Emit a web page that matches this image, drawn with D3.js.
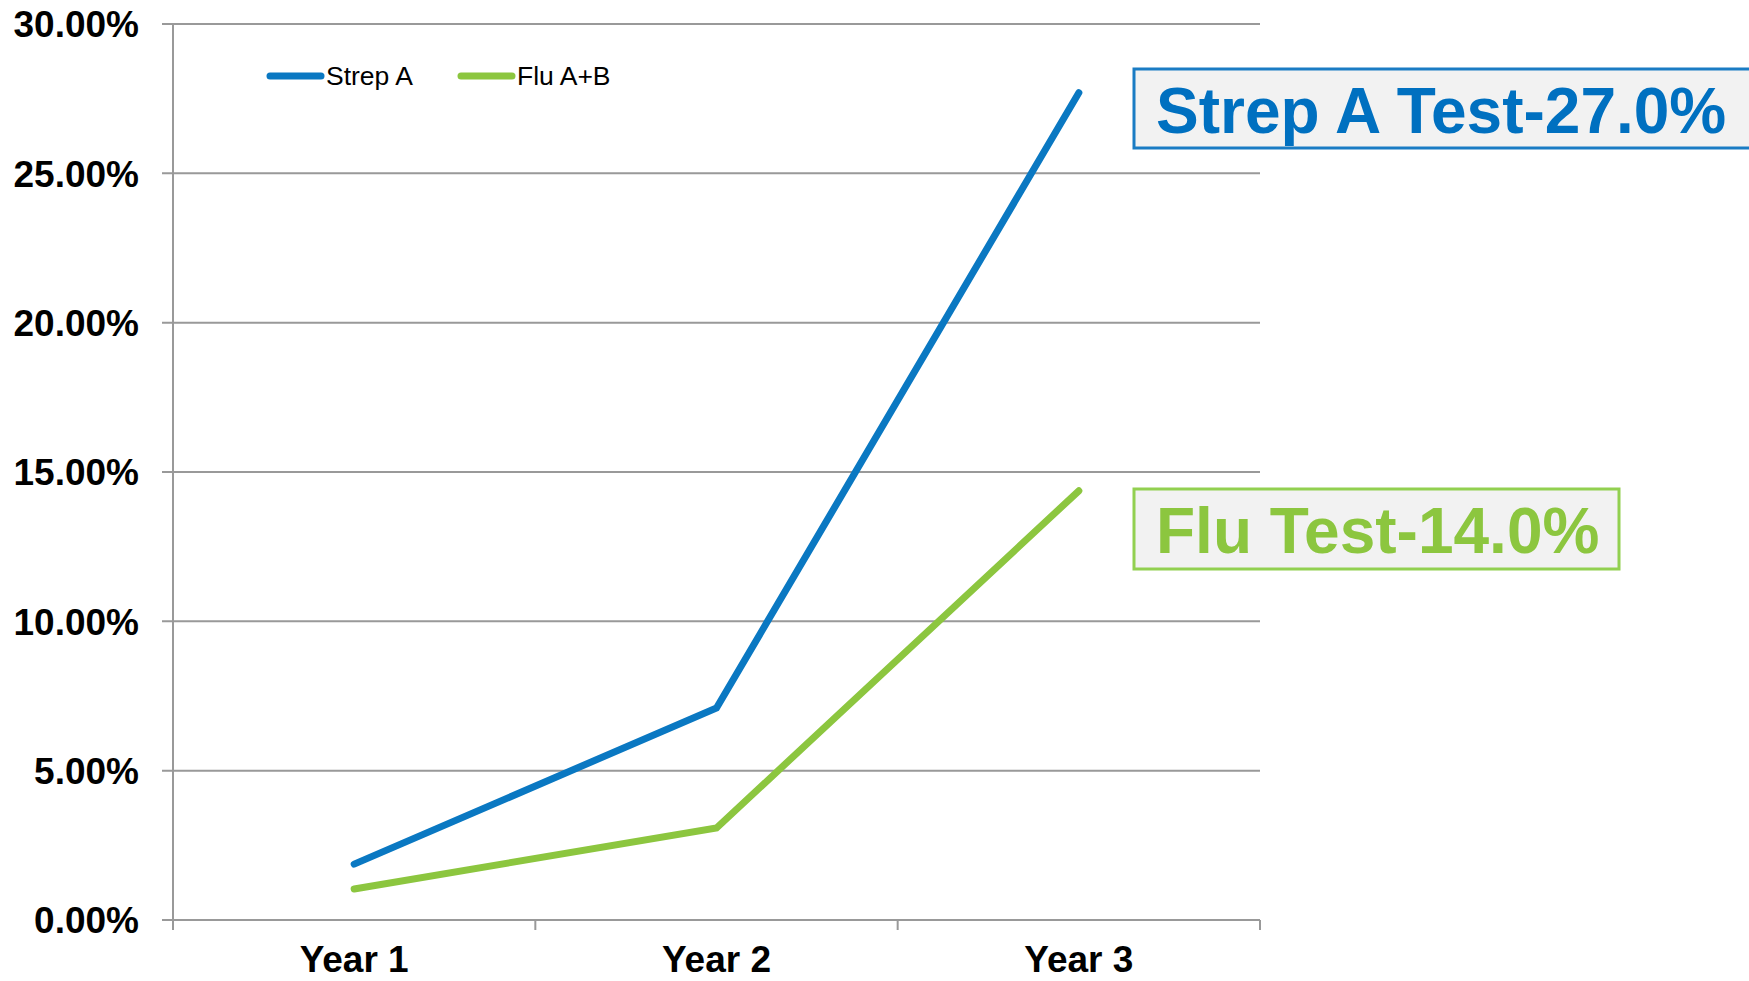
<!DOCTYPE html>
<html>
<head>
<meta charset="utf-8">
<script src="https://cdn.jsdelivr.net/npm/d3@7"></script>
<style>
  body { margin: 0; background: #fff; }
  svg { display: block; font-family: "Liberation Sans", Arial, sans-serif; }
</style>
</head>
<body>
<div id="chart"></div>
<script>
// data
var years = ["Year 1", "Year 2", "Year 3"];
var strepA = [0.0187, 0.0710, 0.2770];
var fluAB = [0.0104, 0.0308, 0.1437];
var yTicks = [0, 0.05, 0.10, 0.15, 0.20, 0.25, 0.30];
var seriesNames = ["Strep A", "Flu A+B"];
var calloutTexts = ["Strep A Test-27.0%", "Flu Test-14.0%"];

var blue = "#0a78c2",
  green = "#8cc63f",
  grid = "#999999";

var W = 1749, H = 981;
var margin = {top: 24, right: 489, bottom: 61, left: 173},
  width = W - margin.left - margin.right,
  height = H - margin.top - margin.bottom;

var svg = d3.select("#chart")
  .append("svg")
    .attr("width", W)
    .attr("height", H);

var chart = svg.append("g")
    .attr("transform", "translate(" + margin.left + "," + margin.top + ")");

var x = d3.scaleBand()
  .domain(years)
  .range([0, width]);

var y = d3.scaleLinear()
  .domain([0, 0.30])
  .range([height, 0]);

// gridlines + y ticks
chart.append("g")
    .attr("class", "grid")
  .selectAll("line")
  .data(yTicks)
  .enter().append("line")
    .attr("x1", -11)
    .attr("x2", width)
    .attr("y1", function(d) { return y(d); })
    .attr("y2", function(d) { return y(d); })
    .attr("stroke", grid)
    .attr("stroke-width", 2);

// left axis line
chart.append("line")
    .attr("x1", 0).attr("x2", 0)
    .attr("y1", 0).attr("y2", height + 10)
    .attr("stroke", grid)
    .attr("stroke-width", 2);

// x ticks at category boundaries
var bounds = years.map(function(d) { return x(d); }).concat([width]);
chart.append("g")
  .selectAll("line")
  .data(bounds)
  .enter().append("line")
    .attr("x1", function(d) { return d; })
    .attr("x2", function(d) { return d; })
    .attr("y1", height)
    .attr("y2", height + 10)
    .attr("stroke", grid)
    .attr("stroke-width", 2);

// y labels
chart.append("g")
  .selectAll("text")
  .data(yTicks)
  .enter().append("text")
    .attr("x", -34)
    .attr("y", function(d) { return y(d); })
    .attr("dy", "0.36em")
    .attr("text-anchor", "end")
    .attr("font-size", 37)
    .attr("font-weight", "bold")
    .attr("fill", "#000")
    .text(function(d) { return d3.format(".2%")(d); });

// x labels
chart.append("g")
  .selectAll("text")
  .data(years)
  .enter().append("text")
    .attr("x", function(d) { return x(d) + x.bandwidth() / 2; })
    .attr("y", height + 52)
    .attr("text-anchor", "middle")
    .attr("font-size", 37)
    .attr("font-weight", "bold")
    .attr("fill", "#000")
    .text(function(d) { return d; });

var line = d3.line()
  .x(function(d, i) { return x(years[i]) + x.bandwidth() / 2; })
  .y(function(d) { return y(d); });

var series = [
  {name: seriesNames[0], values: strepA, color: blue},
  {name: seriesNames[1], values: fluAB, color: green}
];

chart.append("g")
  .selectAll("path")
  .data(series)
  .enter().append("path")
    .attr("d", function(d) { return line(d.values); })
    .attr("fill", "none")
    .attr("stroke", function(d) { return d.color; })
    .attr("stroke-width", 7)
    .attr("stroke-linecap", "round")
    .attr("stroke-linejoin", "miter");

// legend
var legend = svg.append("g")
  .selectAll("g")
  .data(series)
  .enter().append("g")
    .attr("transform", function(d, i) { return "translate(" + (270 + i * 191) + ",76)"; });

legend.append("line")
    .attr("x1", 0).attr("x2", 51)
    .attr("y1", 0).attr("y2", 0)
    .attr("stroke", function(d) { return d.color; })
    .attr("stroke-width", 7)
    .attr("stroke-linecap", "round");

legend.append("text")
    .attr("x", 56)
    .attr("y", 9)
    .attr("font-size", 26.5)
    .attr("fill", "#000")
    .text(function(d) { return d.name; });

// callout boxes
var callouts = [
  {text: calloutTexts[0], color: "#0070c0", border: "#1a7cc4", x: 1134, y: 69, h: 79, w: 640},
  {text: calloutTexts[1], color: "#8cc63f", border: "#92d050", x: 1134, y: 489, h: 80, w: 485}
];

var box = svg.append("g")
  .selectAll("g")
  .data(callouts)
  .enter().append("g")
    .attr("transform", function(d) { return "translate(" + d.x + "," + d.y + ")"; });

box.append("rect")
    .attr("width", function(d) { return d.w; })
    .attr("height", function(d) { return d.h; })
    .attr("fill", "#f2f2f2")
    .attr("stroke", function(d) { return d.border; })
    .attr("stroke-width", 3);

box.append("text")
    .attr("x", 22)
    .attr("y", 64)
    .attr("font-size", 64)
    .attr("font-weight", "bold")
    .attr("fill", function(d) { return d.color; })
    .text(function(d) { return d.text; });
</script>
</body>
</html>
